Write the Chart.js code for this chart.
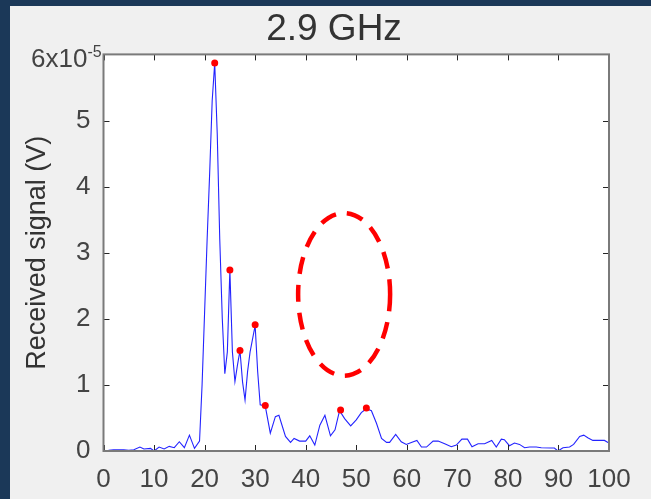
<!DOCTYPE html>
<html>
<head>
<meta charset="utf-8">
<script src="https://cdn.jsdelivr.net/npm/chart.js@4"></script>
<style>
  html, body { margin: 0; padding: 0; width: 651px; height: 499px; overflow: hidden; background: #1b3858; }
  #panel { position: absolute; left: 10px; top: 6px; right: 0; bottom: 0; background: #f0f0f0; }
  #wrap { position: absolute; left: 0; top: 0; width: 651px; height: 499px; }
</style>
</head>
<body>
<div id="panel"></div>
<div id="wrap"><canvas id="signal-chart" width="651" height="499"></canvas></div>
<script>
// received signal in units of 1e-5 V
const distance = [1, 2, 3, 4, 5, 6, 7.2, 8, 9.3, 10, 11, 12, 13, 14, 15, 16, 17, 18, 19,
  19.5, 20, 20.5, 21, 21.5, 22, 22.5, 23, 23.5, 24, 24.5, 25, 25.5, 26, 26.5, 27, 27.5, 28,
  28.5, 29, 29.5, 30, 30.5, 31, 32, 33, 34, 34.7, 36, 37, 37.7, 38.8, 40, 40.8, 41.8, 42.8,
  43.8, 44.9, 45.8, 46.7, 47.7, 48.9, 50, 51, 52, 53, 54, 55, 56, 56.6, 57.8, 58.9, 59.9,
  60.9, 62, 62.9, 63.9, 65.2, 66.2, 67.5, 68.8, 69.8, 70.9, 72, 72.9, 74.1, 75.4, 76.8,
  77.7, 78.7, 79.3, 80.3, 81.3, 82.3, 83.3, 84.3, 85.6, 86.6, 88.6, 89.2, 89.9, 90.9,
  92.2, 93, 94.2, 95, 95.8, 96.8, 98.1, 99.1, 100];
const signal = [0.01, 0.02, 0.02, 0.02, 0.01, 0.02, 0.06, 0.03, 0.04, 0.0, 0.06, 0.03, 0.07, 0.05, 0.14, 0.05, 0.24, 0.04, 0.15,
  1.0, 2.1, 3.2, 4.2, 5.3, 5.87, 4.8, 3.2, 2.0, 1.17, 1.5, 2.74, 1.5, 1.05, 1.3, 1.52, 1.05, 0.77,
  1.2, 1.5, 1.7, 1.9, 1.2, 0.7, 0.68, 0.27, 0.52, 0.54, 0.22, 0.13, 0.19, 0.15, 0.15, 0.23, 0.09, 0.39,
  0.54, 0.23, 0.32, 0.61, 0.49, 0.38, 0.47, 0.58, 0.64, 0.61, 0.42, 0.19, 0.13, 0.13, 0.25, 0.14, 0.10,
  0.13, 0.16, 0.06, 0.06, 0.15, 0.15, 0.11, 0.065, 0.09, 0.18, 0.18, 0.065, 0.11, 0.11, 0.16,
  0.06, 0.18, 0.17, 0.08, 0.12, 0.10, 0.05, 0.06, 0.06, 0.05, 0.045, 0.045, 0.0, 0.05,
  0.06, 0.1, 0.22, 0.24, 0.2, 0.16, 0.16, 0.16, 0.12];

const peakDistance = [22, 25, 27, 30, 32, 46.9, 52];
const peakSignal = [5.87, 2.74, 1.52, 1.91, 0.69, 0.62, 0.65];

const xTicks = [0, 10, 20, 30, 40, 50, 60, 70, 80, 90, 100];
const yTicks = [0, 1, 2, 3, 4, 5, 6];
const yTopMantissa = '6x10';
const yTopExponent = '-5';

// dashed ring marking the empty region (data units)
const ringCenter = [47.6, 2.37];
const ringRadius = [9.1, 1.23];

const fontFamily = 'Liberation Sans';
const tickFont = { family: fontFamily, size: 26 };
const textColor = '#444';

const boxPlugin = {
  id: 'box',
  beforeDraw(chart) {
    const { ctx, chartArea: a } = chart;
    ctx.save();
    ctx.fillStyle = '#fff';
    ctx.fillRect(a.left, a.top, a.right - a.left, a.bottom - a.top);
    ctx.restore();
  },
  afterDraw(chart) {
    const { ctx, chartArea: a, scales } = chart;
    ctx.save();
    // inward ticks on all four sides
    ctx.strokeStyle = '#262626';
    ctx.lineWidth = 1;
    ctx.beginPath();
    xTicks.forEach(v => {
      const px = Math.round(scales.x.getPixelForValue(v)) + 0.5;
      ctx.moveTo(px, a.bottom); ctx.lineTo(px, a.bottom - 6);
      ctx.moveTo(px, a.top); ctx.lineTo(px, a.top + 6);
    });
    yTicks.forEach(v => {
      const py = Math.round(scales.y.getPixelForValue(v)) + 0.5;
      ctx.moveTo(a.left, py); ctx.lineTo(a.left + 6, py);
      ctx.moveTo(a.right, py); ctx.lineTo(a.right - 6, py);
    });
    ctx.stroke();
    ctx.strokeStyle = '#7a7a7a';
    ctx.lineWidth = 2;
    ctx.strokeRect(a.left, a.top, a.right - a.left, a.bottom - a.top);

    // top y label with exponent
    const topY = scales.y.getPixelForValue(yTicks[yTicks.length - 1]);
    ctx.fillStyle = textColor;
    ctx.textBaseline = 'middle';
    ctx.textAlign = 'right';
    ctx.font = `26px "${fontFamily}"`;
    ctx.fillText(yTopMantissa, a.left - 16, topY + 5);
    ctx.textAlign = 'left';
    ctx.font = `16px "${fontFamily}"`;
    ctx.fillText(yTopExponent, a.left - 16, topY - 2);

    // dashed ellipse
    const cx = scales.x.getPixelForValue(ringCenter[0]);
    const cy = scales.y.getPixelForValue(ringCenter[1]);
    const rx = scales.x.getPixelForValue(ringCenter[0] + ringRadius[0]) - cx;
    const ry = cy - scales.y.getPixelForValue(ringCenter[1] + ringRadius[1]);
    ctx.strokeStyle = '#ff0000';
    ctx.lineWidth = 4.5;
    ctx.setLineDash([17, 11]);
    ctx.beginPath();
    ctx.ellipse(cx, cy, rx, ry, 0, 0, Math.PI * 2);
    ctx.stroke();
    ctx.restore();
  }
};

new Chart(document.getElementById('signal-chart'), {
  type: 'scatter',
  data: {
    datasets: [
      {
        data: peakDistance.map((d, i) => ({ x: d, y: peakSignal[i] })),
        showLine: false,
        pointRadius: 3.5,
        pointBackgroundColor: '#ff0000',
        pointBorderWidth: 0
      },
      {
        data: distance.map((d, i) => ({ x: d, y: signal[i] })),
        showLine: true,
        borderColor: 'rgb(35,35,255)',
        borderWidth: 1.1,
        pointRadius: 0
      }
    ]
  },
  options: {
    responsive: false,
    animation: false,
    layout: { padding: { left: 17, right: 0, top: 0, bottom: 0 } },
    plugins: {
      legend: { display: false },
      tooltip: { enabled: false },
      title: {
        display: true,
        text: '2.9 GHz',
        color: '#333',
        font: { family: fontFamily, size: 37, weight: 'normal', lineHeight: 1.2 },
        padding: { top: 8, bottom: 2 }
      }
    },
    scales: {
      x: {
        type: 'linear', min: 0, max: 100,
        grid: { display: false },
        border: { display: false },
        afterBuildTicks: s => { s.ticks = xTicks.map(v => ({ value: v })); },
        ticks: { color: textColor, font: tickFont, padding: 5, maxRotation: 0 },
        afterFit: s => { s.height = 48; }
      },
      y: {
        min: 0, max: 6,
        grid: { display: false },
        border: { display: false },
        afterBuildTicks: s => { s.ticks = yTicks.map(v => ({ value: v })); },
        ticks: {
          color: textColor, font: tickFont, padding: 5,
          callback: v => (v === 6 ? '' : String(v))
        },
        title: {
          display: true,
          text: 'Received signal (V)',
          color: '#333',
          font: { family: fontFamily, size: 27, lineHeight: 1.2 },
          padding: { top: 4, bottom: 0 }
        },
        afterFit: s => { s.width = 86.5; }
      },
      y2: {
        position: 'right', min: 0, max: 6,
        grid: { display: false },
        border: { display: false },
        ticks: { display: false },
        afterFit: s => { s.width = 42; }
      }
    }
  },
  plugins: [boxPlugin]
});
</script>
</body>
</html>
